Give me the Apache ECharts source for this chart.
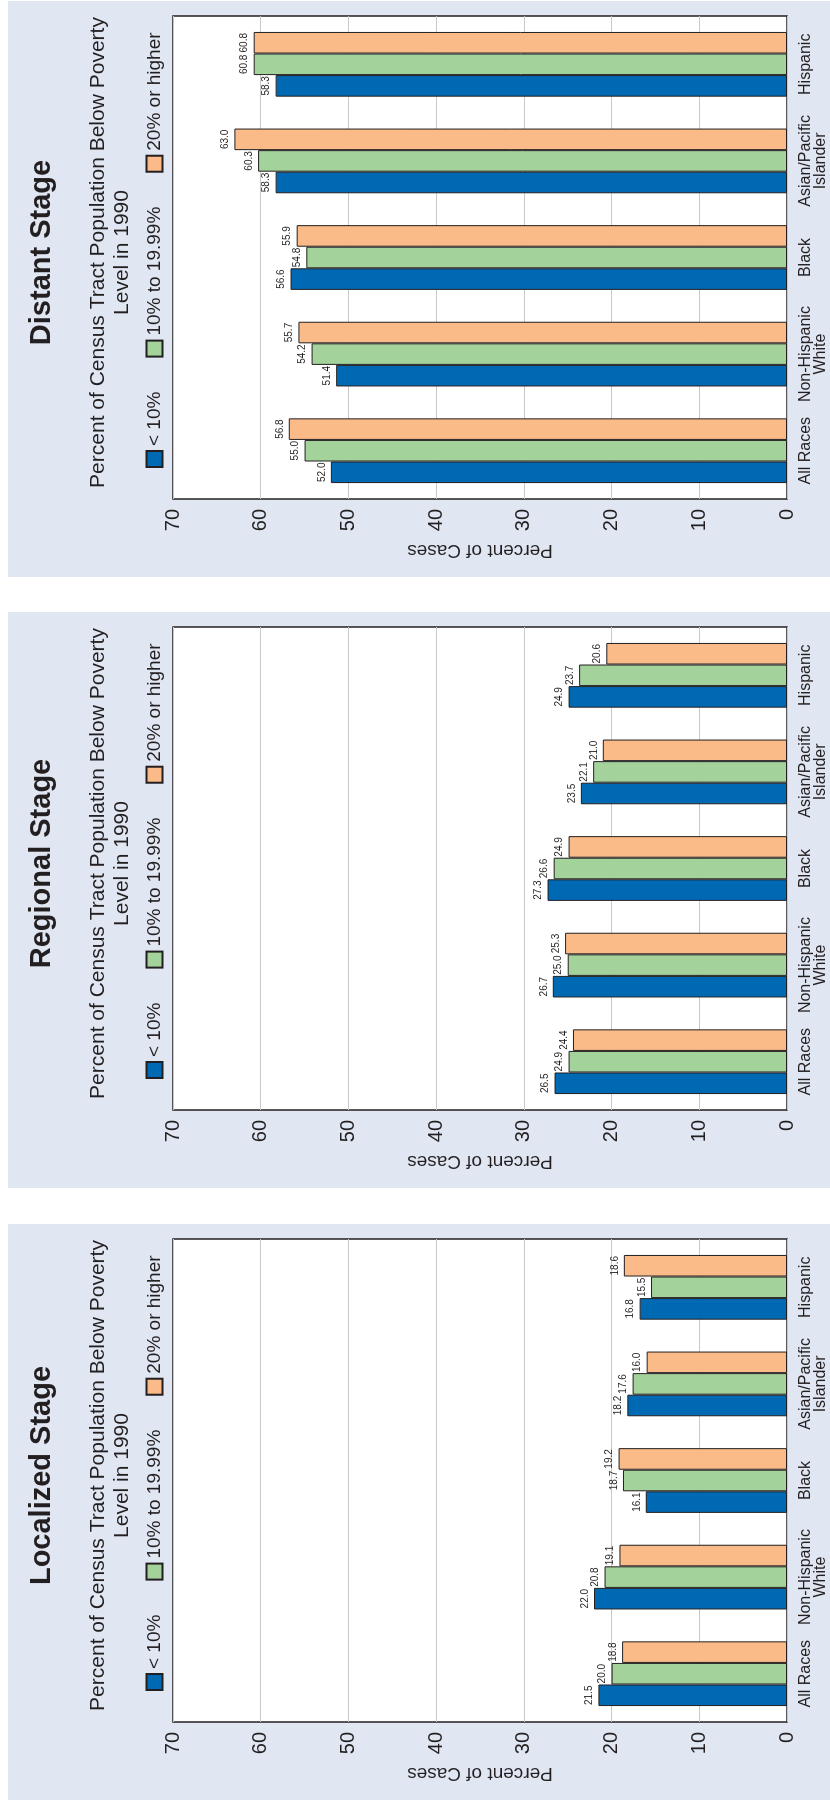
<!DOCTYPE html>
<html>
<head>
<meta charset="utf-8">
<script src="https://cdn.jsdelivr.net/npm/echarts@6/dist/echarts.min.js"></script>
<style>
html,body{margin:0;padding:0;background:#fff;overflow:hidden;width:830px;height:1804px;}
#c{position:absolute;left:0;top:0;width:1804px;height:830px;transform-origin:0 0;transform:translate(0,1804px) rotate(-90deg);}
</style>
</head>
<body>
<div id="c"></div>
<script>
// ---- data ----
const categories = ['All Races', 'Non-Hispanic\nWhite', 'Black', 'Asian/Pacific\nIslander', 'Hispanic'];
const seriesNames = ['< 10%', '10% to 19.99%', '20% or higher'];
const panelTitles = ['Localized Stage', 'Regional Stage', 'Distant Stage'];
const subtitleText = 'Percent of Census Tract Population Below Poverty\nLevel in 1990';
const axisName = 'Percent of Cases';
const valueTicks = [0, 10, 20, 30, 40, 50, 60, 70];

const localizedLow  = [21.5, 22.0, 16.1, 18.2, 16.8];
const localizedMid  = [20.0, 20.8, 18.7, 17.6, 15.5];
const localizedHigh = [18.8, 19.1, 19.2, 16.0, 18.6];

const regionalLow  = [26.5, 26.7, 27.3, 23.5, 24.9];
const regionalMid  = [24.9, 25.0, 26.6, 22.1, 23.7];
const regionalHigh = [24.4, 25.3, 24.9, 21.0, 20.6];

const distantLow  = [52.0, 51.4, 56.6, 58.3, 58.3];
const distantMid  = [55.0, 54.2, 54.8, 60.3, 60.8];
const distantHigh = [56.8, 55.7, 55.9, 63.0, 60.8];

const panelData = [
  [localizedLow, localizedMid, localizedHigh],
  [regionalLow, regionalMid, regionalHigh],
  [distantLow, distantMid, distantHigh]
];

// ---- style ----
const colors = ['#0069b4', '#a3d29b', '#fabb89'];
const ink = '#231f20';
const panelBg = '#e0e7f3';
const font = 'Liberation Sans, Arial, Helvetica, sans-serif';
const narrow = 'Liberation Sans Narrow, Liberation Sans, Arial, sans-serif';

const panelLeft = [4, 616, 1227];
const panelW = 576;
const plotOffset = 78;
const plotW = 483;
const plotTop = 173;
const plotH = 614;

const chart = echarts.init(document.getElementById('c'));

const grids = [], xAxes = [], yAxes = [], series = [], titles = [], legends = [], graphics = [];
panelLeft.forEach((L, p) => {
  graphics.push({type: 'rect', z: -10, shape: {x: L, y: 8, width: panelW, height: 830}, style: {fill: panelBg}});
  const gl = L + plotOffset;
  const cx = gl + plotW / 2;
  grids.push({left: gl, top: plotTop, width: plotW, height: plotH, show: true, backgroundColor: '#fff', borderColor: ink, borderWidth: 1.5, containLabel: false});
  xAxes.push({
    type: 'category', gridIndex: p, data: categories,
    axisTick: {show: false}, axisLine: {show: false},
    axisLabel: {fontFamily: font, fontSize: 16, lineHeight: 15, color: ink, margin: 11, interval: 0}
  });
  yAxes.push({
    type: 'value', gridIndex: p, min: valueTicks[0], max: valueTicks[valueTicks.length - 1], interval: 10,
    axisLine: {show: false}, axisTick: {show: false},
    axisLabel: {fontFamily: font, fontSize: 20, color: ink, margin: 10},
    splitLine: {lineStyle: {color: '#c8c8c8', width: 1}},
    name: axisName, nameLocation: 'middle', nameRotate: 90, nameGap: 42,
    nameTextStyle: {fontFamily: font, fontSize: 19, color: ink}
  });
  titles.push({text: panelTitles[p], left: cx, top: 22, textAlign: 'center',
    textStyle: {fontFamily: font, fontSize: 29, fontWeight: 'bold', color: ink}});
  titles.push({text: subtitleText, left: cx, top: 81, textAlign: 'center',
    textStyle: {fontFamily: font, fontSize: 21, fontWeight: 'normal', lineHeight: 24, color: ink}});
  legends.push({data: seriesNames, left: L + 104, top: 140, orient: 'horizontal', icon: 'rect',
    itemWidth: 16, itemHeight: 16, itemGap: 34, selectedMode: false,
    textStyle: {fontFamily: font, fontSize: 19, color: ink}});
  panelData[p].forEach((vals, s) => {
    series.push({
      type: 'bar', name: seriesNames[s], xAxisIndex: p, yAxisIndex: p, data: vals,
      barGap: '0%', barCategoryGap: '33%',
      itemStyle: {color: colors[s], borderColor: ink, borderWidth: 1},
      label: {show: true, position: 'top', distance: 4, fontFamily: narrow, fontSize: 10, color: ink,
        formatter: (d) => d.value.toFixed(1)}
    });
  });
});

chart.setOption({
  animation: false,
  backgroundColor: '#fff',
  graphic: {elements: graphics},
  title: titles,
  legend: legends,
  grid: grids,
  xAxis: xAxes,
  yAxis: yAxes,
  series: series
});
</script>
</body>
</html>
